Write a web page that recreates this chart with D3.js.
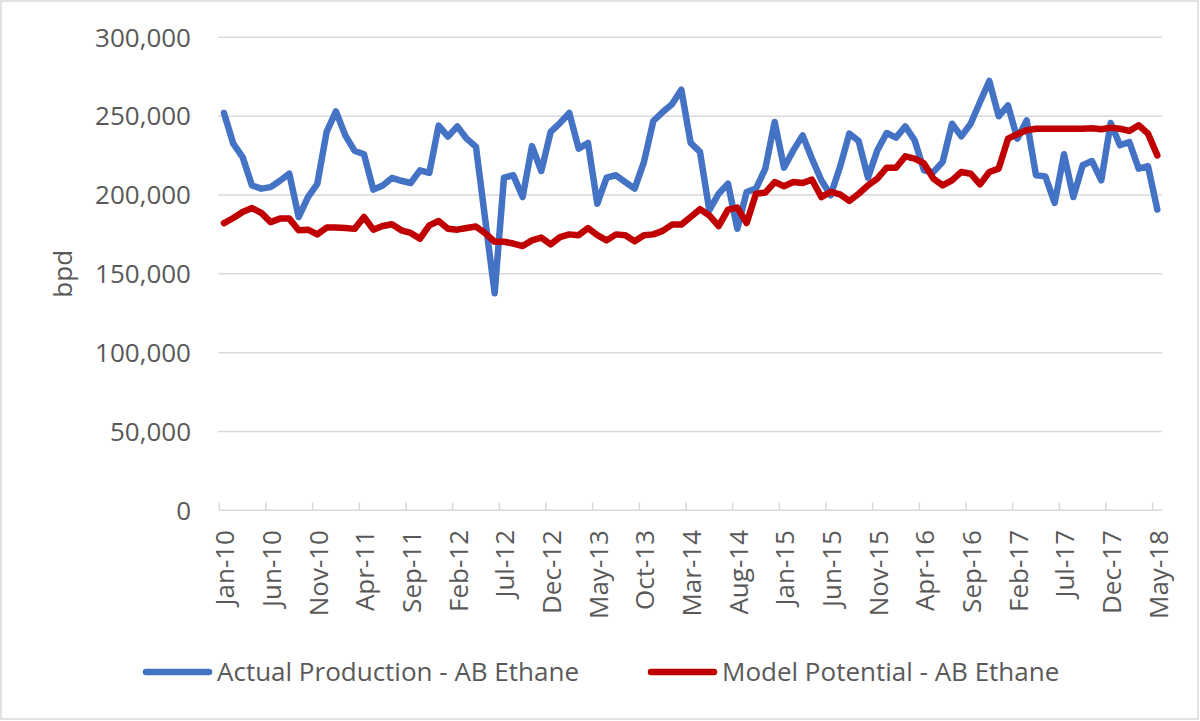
<!DOCTYPE html>
<html>
  <head>
    <meta charset="utf-8">
    <script src="https://d3js.org/d3.v7.min.js"></script>
    <style>
        body {
          margin: 0;
          background: white;
        }
        text {
          font-family: "Open Sans", sans-serif;
          fill: #595959;
        }
    </style>
  </head>
  <body>
    <div id="chartcontainer"></div>

    <script type="text/javascript">
      // monthly categories Jan-10 .. May-18
      var months = d3.timeMonths(new Date(2010, 0, 1), new Date(2018, 5, 1));

      var tickLabels = ["Jan-10", "Jun-10", "Nov-10", "Apr-11", "Sep-11", "Feb-12", "Jul-12",
                        "Dec-12", "May-13", "Oct-13", "Mar-14", "Aug-14", "Jan-15", "Jun-15",
                        "Nov-15", "Apr-16", "Sep-16", "Feb-17", "Jul-17", "Dec-17", "May-18"];

      var yTicks = [0, 50000, 100000, 150000, 200000, 250000, 300000];

      // Actual Production - AB Ethane (bpd)
      var actual = [
        252000, 232500, 224000, 206000, 204000, 205000, 209000, 213500, 186000, 198700,
        207000, 240000, 253000, 237800, 228000, 225800, 203400, 206000, 210800, 209000,
        207600, 215600, 214000, 244000, 237000, 243500, 235700, 230500, 184000, 137700,
        211000, 212500, 198700, 231000, 215200, 240000, 245600, 252000, 229400, 233000,
        194500, 211000, 212500, 208200, 204000, 221000, 246900, 252600, 257500, 266800,
        233000, 227300, 190300, 200800, 207200, 178600, 201900, 204000, 216700, 246300,
        217300, 228300, 237800, 223000, 209300, 199800, 217700, 238900, 234200, 211000,
        228300, 239300, 236400, 243500, 234700, 215600, 214500, 221000, 245200, 237200,
        245200, 259000, 272300, 249900, 256800, 235700, 247300, 212500, 211800, 194900,
        225800, 198700, 218800, 221500, 209300, 245600, 231500, 233600, 216700, 218200,
        190700
      ];

      // Model Potential - AB Ethane (bpd)
      var model = [
        182200, 185400, 189200, 191700, 188600, 182800, 185000, 185000, 177600, 178000,
        175000, 179300, 179300, 179000, 178500, 186000, 178000, 180300, 181400, 177600,
        175900, 172300, 180700, 183500, 178600, 178000, 179000, 180000, 175600, 170300,
        170300, 169200, 167600, 171200, 173000, 168700, 173300, 175000, 174500, 179000,
        174500, 171200, 175000, 174500, 170600, 174500, 175000, 177200, 181200, 181200,
        186000, 191000, 187000, 180300, 190700, 192000, 182200, 200800, 201500, 208200,
        205500, 208200, 207600, 209700, 198700, 201900, 200400, 196200, 200800, 206100,
        210400, 217300, 217300, 224500, 223000, 220000, 210400, 206100, 209300, 214600,
        213500, 206700, 214600, 216700, 235700, 238500, 241000, 242000, 242000, 242000,
        242000, 242000, 242000, 242300, 241700, 242700, 242000, 240600, 244200, 238900,
        225100
      ];

      var seriesNames = ["Actual Production - AB Ethane", "Model Potential - AB Ethane"];
      var seriesColors = ["#4472C4", "#C00000"];

      var svg = d3.select("#chartcontainer").append("svg")
          .attr("width", 1200)
          .attr("height", 721);

      // outer chart border
      svg.append("rect")
         .attr("x", 1).attr("y", 1)
         .attr("width", 1197).attr("height", 718)
         .attr("fill", "white")
         .attr("stroke", "#d9d9d9")
         .attr("stroke-width", 1.5);

      var plotLeft = 219.3, plotRight = 1162, plotTop = 37.3, plotBottom = 510.3;

      var x = d3.scalePoint()
          .domain(d3.range(months.length))
          .range([plotLeft, plotRight])
          .padding(0.5);
      var step = x.step();

      var y = d3.scaleLinear()
          .domain([0, 300000])
          .range([plotBottom, plotTop]);

      // gridlines
      svg.append("g").selectAll("line")
         .data(yTicks.slice(1))
         .enter().append("line")
         .attr("x1", plotLeft - 1).attr("x2", plotRight)
         .attr("y1", function(d) { return y(d); })
         .attr("y2", function(d) { return y(d); })
         .attr("stroke", "#d9d9d9")
         .attr("stroke-width", 1.5);

      // y axis labels
      svg.append("g").selectAll("text")
         .data(yTicks)
         .enter().append("text")
         .attr("x", 191)
         .attr("y", function(d) { return y(d); })
         .attr("dy", "0.36em")
         .attr("text-anchor", "end")
         .style("font-size", "26px")
         .text(d3.format(","));

      svg.append("text")
         .attr("transform", "translate(72," + ((plotTop + plotBottom) / 2) + ") rotate(-90)")
         .attr("text-anchor", "middle")
         .style("font-size", "26px")
         .text("bpd");

      // x axis line and tick marks between categories
      svg.append("line")
         .attr("x1", plotLeft).attr("x2", plotRight)
         .attr("y1", plotBottom).attr("y2", plotBottom)
         .attr("stroke", "#d9d9d9")
         .attr("stroke-width", 1.5);

      var tickIdx = d3.range(0, months.length, 5);
      svg.append("g").selectAll("line")
         .data(tickIdx)
         .enter().append("line")
         .attr("x1", function(d) { return x(d) - step / 2; })
         .attr("x2", function(d) { return x(d) - step / 2; })
         .attr("y1", plotBottom).attr("y2", plotBottom - 8)
         .attr("stroke", "#d9d9d9")
         .attr("stroke-width", 1.5);

      svg.append("g").selectAll("text")
         .data(tickIdx)
         .enter().append("text")
         .attr("transform", function(d) { return "translate(" + (x(d) + 1) + ",530) rotate(-90)"; })
         .attr("dy", "0.36em")
         .attr("text-anchor", "end")
         .style("font-size", "26px")
         .text(function(d, i) { return tickLabels[i]; });

      // the two series
      var line = d3.line()
          .x(function(d, i) { return x(i); })
          .y(function(d) { return y(d); });

      [actual, model].forEach(function(vals, k) {
        svg.append("path")
           .datum(vals)
           .attr("d", line)
           .attr("fill", "none")
           .attr("stroke", seriesColors[k])
           .attr("stroke-width", 6.5)
           .attr("stroke-linejoin", "round")
           .attr("stroke-linecap", "round");
      });

      // legend
      var legendX = [146, 651];
      var legend = svg.append("g").selectAll("g")
          .data(seriesNames)
          .enter().append("g")
          .attr("transform", function(d, i) { return "translate(" + legendX[i] + ",672)"; });

      legend.append("line")
            .attr("x1", 0).attr("x2", 63)
            .attr("stroke", function(d, i) { return seriesColors[i]; })
            .attr("stroke-width", 6.5)
            .attr("stroke-linecap", "round");

      legend.append("text")
            .attr("x", 71)
            .attr("dy", "0.36em")
            .style("font-size", "26px")
            .text(function(d) { return d; });
    </script>
  </body>
</html>
